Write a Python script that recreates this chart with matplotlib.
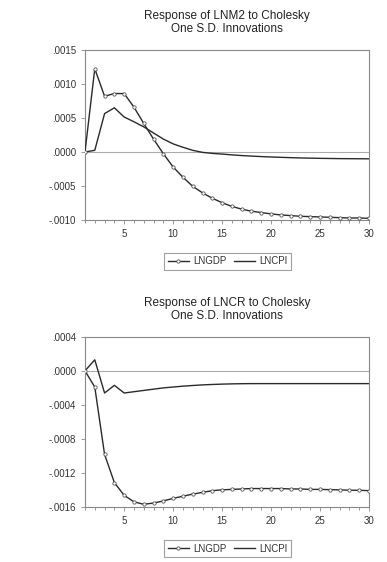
import numpy as np
import matplotlib
matplotlib.use('Agg')
import matplotlib.pyplot as plt
from matplotlib.ticker import MultipleLocator, FuncFormatter

plt.rcParams['font.family'] = ['Liberation Sans', 'DejaVu Sans']

periods = np.arange(1, 31)

# response of LNM2 (units of 1e-3)
m2_gdp = [0.0, 1.225, 0.82, 0.86, 0.86, 0.66, 0.42, 0.19, -0.025, -0.22,
          -0.37, -0.505, -0.60, -0.68, -0.745, -0.80, -0.84, -0.87, -0.89, -0.91,
          -0.925, -0.935, -0.945, -0.95, -0.955, -0.96, -0.965, -0.97, -0.97, -0.975]
m2_cpi = [0.0, 0.025, 0.565, 0.65, 0.515, 0.445, 0.37, 0.28, 0.19, 0.12,
          0.07, 0.025, -0.005, -0.02, -0.03, -0.042, -0.052, -0.06, -0.067, -0.073,
          -0.078, -0.083, -0.087, -0.09, -0.093, -0.095, -0.097, -0.098, -0.099, -0.10]

# response of LNCR (units of 1e-3)
cr_gdp = [0.0, -0.19, -0.98, -1.31, -1.46, -1.535, -1.565, -1.55, -1.525, -1.495,
          -1.47, -1.445, -1.425, -1.405, -1.395, -1.39, -1.385, -1.38, -1.38, -1.38,
          -1.38, -1.385, -1.385, -1.39, -1.39, -1.393, -1.395, -1.40, -1.40, -1.405]
cr_cpi = [0.0, 0.129, -0.26, -0.17, -0.26, -0.245, -0.23, -0.215, -0.20, -0.19,
          -0.18, -0.172, -0.165, -0.16, -0.156, -0.153, -0.151, -0.15, -0.15, -0.15,
          -0.15, -0.15, -0.15, -0.15, -0.15, -0.15, -0.15, -0.15, -0.15, -0.15]

panels = [
    ('Response of LNM2 to Cholesky\nOne S.D. Innovations', m2_gdp, m2_cpi,
     (-0.0010, 0.0015), 0.0005, [0.6085, 0.3025], 0.5347),
    ('Response of LNCR to Cholesky\nOne S.D. Innovations', cr_gdp, cr_cpi,
     (-0.0016, 0.0004), 0.0004, [0.0973, 0.3036], 0.024),
]

def fmt(v, pos):
    s = '%.4f' % v
    s = s.replace('0.', '.', 1)
    if s == '-.0000':
        s = '.0000'
    return s

fig = plt.figure(figsize=(3.87, 5.62), dpi=100)
line_col = '#2a2a2a'
gray = '#888888'

for title, gdp, cpi, ylim, step, (bot, h), leg_y in panels:
    ax = fig.add_axes([0.2196, bot, 0.7339, h])
    ax.axhline(0, color='#aaaaaa', lw=0.8, zorder=1)
    ax.plot(periods, np.array(gdp) * 1e-3, color=line_col, lw=1.0, marker='o',
            ms=2.4, mfc='white', mec='#555555', mew=0.6, label='LNGDP', zorder=3)
    ax.plot(periods, np.array(cpi) * 1e-3, color=line_col, lw=1.0,
            label='LNCPI', zorder=2)
    ax.set_xlim(1, 30)
    ax.set_ylim(*ylim)
    ax.yaxis.set_major_locator(MultipleLocator(step))
    ax.yaxis.set_major_formatter(FuncFormatter(fmt))
    ax.xaxis.set_major_locator(MultipleLocator(5))
    ax.xaxis.set_minor_locator(MultipleLocator(1))
    ax.tick_params(axis='both', which='both', direction='out', colors=gray,
                   labelcolor='#333333', labelsize=7, width=0.6)
    ax.tick_params(axis='both', which='major', length=3)
    ax.tick_params(axis='x', which='minor', length=2)
    for sp in ax.spines.values():
        sp.set_color(gray)
        sp.set_linewidth(0.8)
    ax.set_title(title, fontsize=8.5, color='#222222', pad=13, linespacing=1.1)
    leg = fig.legend(handles=ax.get_lines()[1:], loc='center',
                     bbox_to_anchor=(0.588, leg_y), ncol=2, fontsize=7,
                     frameon=True, fancybox=False, handlelength=2.2,
                     handletextpad=0.4, columnspacing=0.8, borderpad=0.4)
    leg.get_frame().set_edgecolor(gray)
    leg.get_frame().set_linewidth(0.8)
    for t in leg.get_texts():
        t.set_color('#333333')

fig.savefig('out.png', dpi=100)
